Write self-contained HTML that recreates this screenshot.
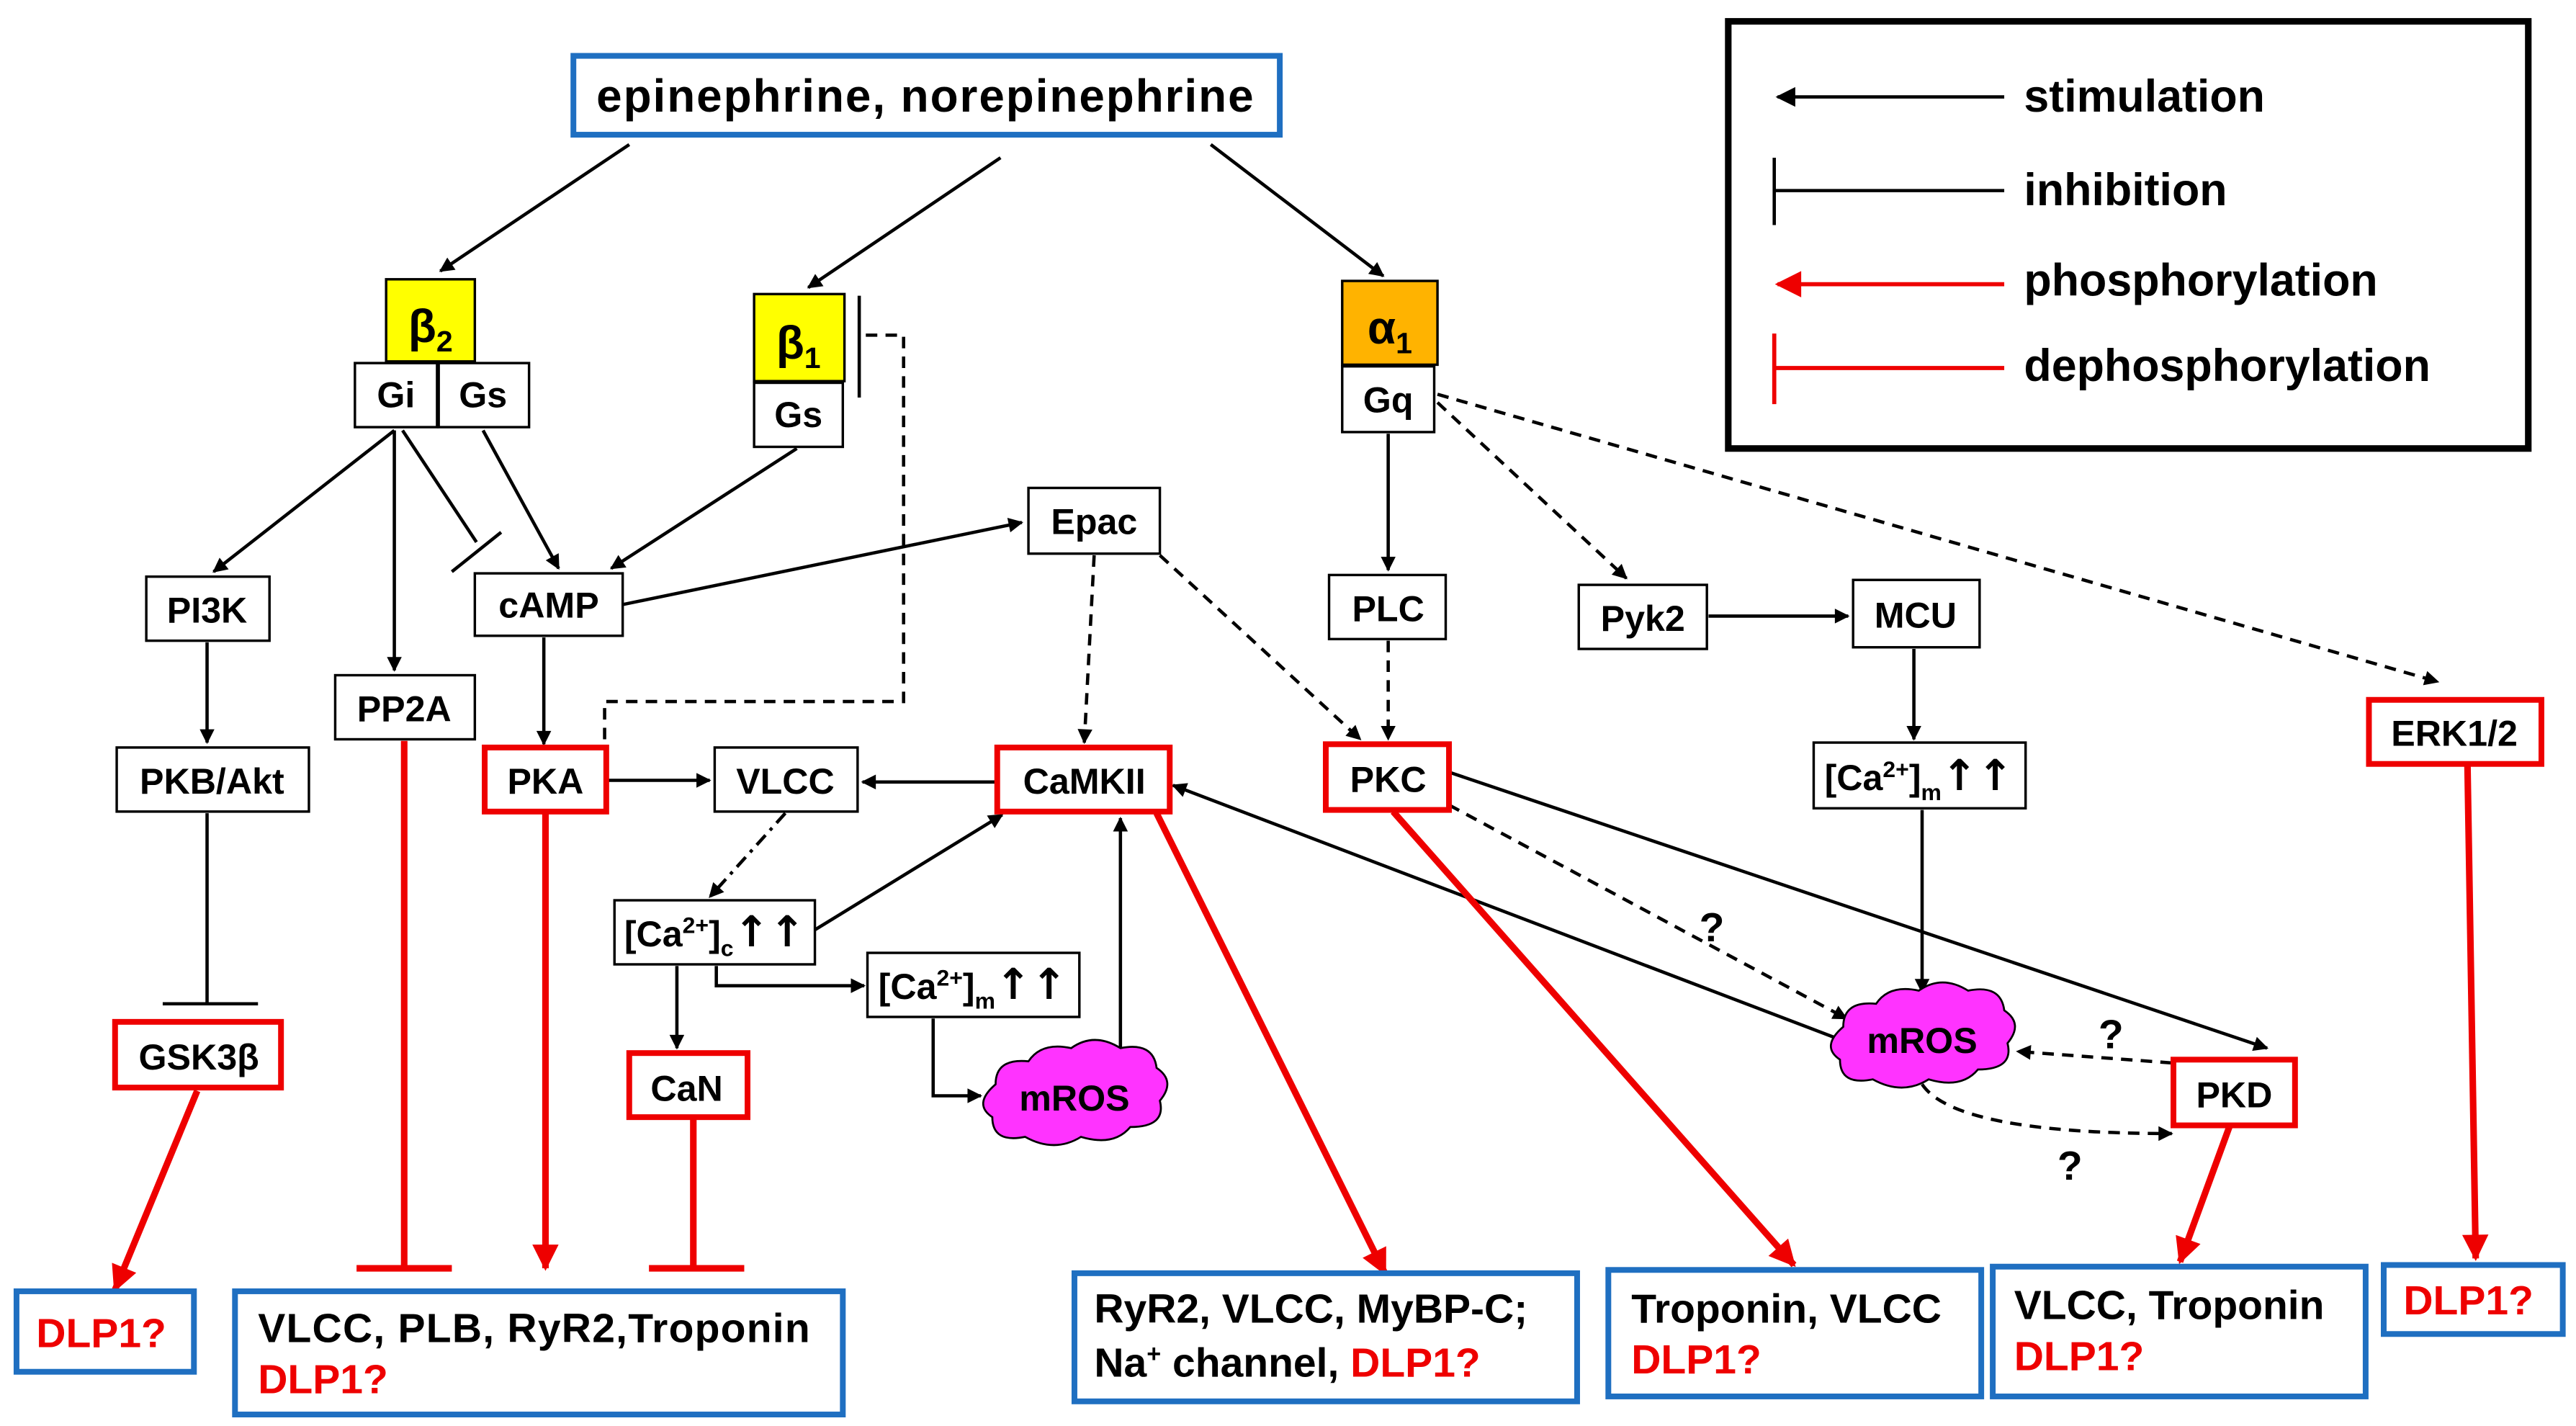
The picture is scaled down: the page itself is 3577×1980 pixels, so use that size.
<!DOCTYPE html>
<html><head><meta charset="utf-8"><style>
html,body{margin:0;padding:0;background:#fff;}
svg{display:block;}
text{font-family:"Liberation Sans",Arial,sans-serif;font-weight:bold;}
</style></head><body>
<svg width="3577" height="1980" viewBox="0 0 1568 868" xmlns="http://www.w3.org/2000/svg">
<defs>
<marker id="a" viewBox="0 0 10 10" refX="9" refY="5" markerWidth="10" markerHeight="9" orient="auto" markerUnits="userSpaceOnUse"><path d="M0,0 L10,5 L0,10 z" fill="#000"/></marker>
<marker id="ab" viewBox="0 0 10 10" refX="9" refY="5" markerWidth="15" markerHeight="12" orient="auto" markerUnits="userSpaceOnUse"><path d="M0,0 L10,5 L0,10 z" fill="#000"/></marker>
<marker id="r" viewBox="0 0 10 10" refX="9" refY="5" markerWidth="18" markerHeight="16" orient="auto" markerUnits="userSpaceOnUse"><path d="M0,0 L10,5 L0,10 z" fill="#e00"/></marker>
</defs>
<rect width="1568" height="868" fill="#fff"/>

<!-- legend -->
<rect x="1052" y="13" width="487" height="260" fill="#fff" stroke="#000" stroke-width="4"/>
<line x1="1220" y1="59" x2="1082" y2="59" stroke="#000" stroke-width="2" marker-end="url(#ab)"/>
<text x="1232" y="68" font-size="27.5">stimulation</text>
<line x1="1080" y1="116" x2="1220" y2="116" stroke="#000" stroke-width="2"/>
<line x1="1080" y1="96" x2="1080" y2="137" stroke="#000" stroke-width="2"/>
<text x="1232" y="125" font-size="27.5">inhibition</text>
<line x1="1220" y1="173" x2="1082" y2="173" stroke="#e00" stroke-width="2.5" marker-end="url(#r)"/>
<text x="1232" y="180" font-size="27.5">phosphorylation</text>
<line x1="1080" y1="224" x2="1220" y2="224" stroke="#e00" stroke-width="2.5"/>
<line x1="1080" y1="203" x2="1080" y2="246" stroke="#e00" stroke-width="2.5"/>
<text x="1232" y="232" font-size="27.5">dephosphorylation</text>

<!-- top -->
<rect x="349" y="34" width="430" height="48" fill="#fff" stroke="#1f6fc1" stroke-width="3.5"/>
<text x="563" y="68" font-size="28" text-anchor="middle" textLength="400">epinephrine, norepinephrine</text>

<g stroke="#000" stroke-width="2" fill="none">
<line x1="383" y1="88" x2="268" y2="165" marker-end="url(#a)"/>
<line x1="609" y1="96" x2="492" y2="175" marker-end="url(#a)"/>
<line x1="737" y1="88" x2="842" y2="168" marker-end="url(#a)"/>
<line x1="240" y1="262" x2="130" y2="348" marker-end="url(#a)"/>
<line x1="240" y1="262" x2="240" y2="408" marker-end="url(#a)"/>
<line x1="245" y1="262" x2="290" y2="330"/>
<line x1="275" y1="348" x2="305" y2="324"/>
<line x1="294" y1="262" x2="340" y2="346" marker-end="url(#a)"/>
<line x1="485" y1="273" x2="372" y2="346" marker-end="url(#a)"/>
<line x1="379" y1="368" x2="622" y2="318" marker-end="url(#a)"/>
<line x1="331" y1="388" x2="331" y2="453" marker-end="url(#a)"/>
<line x1="126" y1="391" x2="126" y2="452" marker-end="url(#a)"/>
<line x1="126" y1="495" x2="126" y2="611"/>
<line x1="99" y1="611" x2="157" y2="611" stroke-width="2"/>
<line x1="523" y1="180" x2="523" y2="242" stroke-width="2"/>
<line x1="845" y1="264" x2="845" y2="347" marker-end="url(#a)"/>
<line x1="1040" y1="375" x2="1125" y2="375" marker-end="url(#a)"/>
<line x1="1165" y1="395" x2="1165" y2="450" marker-end="url(#a)"/>
<line x1="1170" y1="493" x2="1170" y2="604" marker-end="url(#a)"/>
<line x1="369" y1="475" x2="432" y2="475" marker-end="url(#a)"/>
<line x1="606" y1="476" x2="525" y2="476" marker-end="url(#a)"/>
<line x1="496" y1="566" x2="610" y2="496" marker-end="url(#a)"/>
<polyline points="436,588 436,600 526,600" marker-end="url(#a)"/>
<line x1="412" y1="588" x2="412" y2="638" marker-end="url(#a)"/>
<polyline points="568,620 568,667 597,667" marker-end="url(#a)"/>
<line x1="682" y1="640" x2="682" y2="498" marker-end="url(#a)"/>
<line x1="1118" y1="632" x2="714" y2="478" marker-end="url(#a)"/>
<line x1="882" y1="470" x2="1380" y2="638" marker-end="url(#a)"/>
</g>
<g stroke="#000" stroke-width="2" fill="none" stroke-dasharray="7,5">
<polyline points="527,204 550,204 550,427 368,427 368,455"/>
<line x1="845" y1="390" x2="845" y2="450" marker-end="url(#a)"/>
<line x1="875" y1="245" x2="990" y2="352" marker-end="url(#a)"/>
<line x1="875" y1="240" x2="1484" y2="415" marker-end="url(#a)"/>
<line x1="666" y1="338" x2="660" y2="452" marker-end="url(#a)"/>
<line x1="706" y1="338" x2="828" y2="450" marker-end="url(#a)"/>
<line x1="882" y1="490" x2="1124" y2="620" marker-end="url(#a)"/>
<line x1="1322" y1="647" x2="1228" y2="640" marker-end="url(#a)"/>
<path d="M1170,660 Q1190,690 1322,690" marker-end="url(#a)"/>
</g>
<line x1="478" y1="495" x2="432" y2="546" stroke="#000" stroke-width="2" stroke-dasharray="8,4,2,4" marker-end="url(#a)"/>
<text x="1042" y="573" font-size="25" text-anchor="middle">?</text>
<text x="1285" y="638" font-size="25" text-anchor="middle">?</text>
<text x="1260" y="718" font-size="25" text-anchor="middle">?</text>

<!-- red -->
<g stroke="#e00" stroke-width="4" fill="none">
<line x1="120" y1="664" x2="70" y2="785" marker-end="url(#r)"/>
<line x1="246" y1="451" x2="246" y2="772"/>
<line x1="217" y1="772" x2="275" y2="772"/>
<line x1="332" y1="495" x2="332" y2="772" marker-end="url(#r)"/>
<line x1="422" y1="681" x2="422" y2="772"/>
<line x1="395" y1="772" x2="453" y2="772"/>
<line x1="704" y1="495" x2="843" y2="775" marker-end="url(#r)"/>
<line x1="848" y1="494" x2="1092" y2="770" marker-end="url(#r)"/>
<line x1="1357" y1="686" x2="1327" y2="768" marker-end="url(#r)"/>
<line x1="1502" y1="466" x2="1507" y2="766" marker-end="url(#r)"/>
</g>

<!-- receptors -->
<rect x="235" y="170" width="54" height="50" fill="#ff0" stroke="#000" stroke-width="1.5"/>
<text x="262" y="208" font-size="28" text-anchor="middle" font-family="Liberation Serif">β<tspan font-size="18" dy="6">2</tspan></text>
<rect x="459" y="179" width="55" height="53" fill="#ff0" stroke="#000" stroke-width="1.5"/>
<text x="486" y="218" font-size="28" text-anchor="middle" font-family="Liberation Serif">β<tspan font-size="18" dy="6">1</tspan></text>
<rect x="817" y="171" width="58" height="51" fill="#ffb300" stroke="#000" stroke-width="1.5"/>
<text x="846" y="209" font-size="28" text-anchor="middle" font-family="Liberation Serif">α<tspan font-size="18" dy="6">1</tspan></text>

<g fill="#fff" stroke="#000" stroke-width="1.5">
<rect x="216" y="221" width="50" height="39"/>
<rect x="267" y="221" width="55" height="39"/>
<rect x="459" y="233" width="54" height="39"/>
<rect x="817" y="223" width="56" height="40"/>
<rect x="89" y="351" width="75" height="39"/>
<rect x="204" y="411" width="85" height="39"/>
<rect x="289" y="349" width="90" height="38"/>
<rect x="626" y="297" width="80" height="40"/>
<rect x="809" y="350" width="71" height="39"/>
<rect x="961" y="356" width="78" height="39"/>
<rect x="1128" y="353" width="77" height="41"/>
<rect x="71" y="455" width="117" height="39"/>
<rect x="435" y="455" width="87" height="39"/>
<rect x="1104" y="452" width="129" height="40"/>
<rect x="374" y="548" width="122" height="39"/>
<rect x="528" y="580" width="129" height="39"/>
</g>
<g fill="#fff" stroke="#e00" stroke-width="3.5">
<rect x="295" y="455" width="74" height="39"/>
<rect x="607" y="455" width="105" height="39"/>
<rect x="807" y="453" width="75" height="40"/>
<rect x="1442" y="426" width="105" height="39"/>
<rect x="383" y="641" width="72" height="39"/>
<rect x="70" y="622" width="101" height="40"/>
<rect x="1323" y="645" width="74" height="40"/>
</g>

<!-- clouds -->
<g fill="#ff33ff" stroke="#000" stroke-width="1.2">
<path d="M606,660 q0,-16 20,-14 q8,-12 26,-8 q14,-10 30,0 q20,-4 22,12 q12,8 2,20 q4,16 -18,16 q-10,12 -30,6 q-16,10 -34,0 q-20,4 -20,-12 q-12,-8 2,-20z"/>
<path d="M1122,625 q0,-16 20,-14 q8,-12 26,-8 q14,-10 30,0 q20,-4 22,12 q12,8 2,20 q4,16 -18,16 q-10,12 -30,6 q-16,10 -34,0 q-20,4 -20,-12 q-12,-8 2,-20z"/>
</g>

<g font-size="22" text-anchor="middle">
<text x="241" y="248">Gi</text>
<text x="294" y="248">Gs</text>
<text x="486" y="260">Gs</text>
<text x="845" y="251">Gq</text>
<text x="126" y="379">PI3K</text>
<text x="246" y="439">PP2A</text>
<text x="334" y="376">cAMP</text>
<text x="666" y="325">Epac</text>
<text x="845" y="378">PLC</text>
<text x="1000" y="384">Pyk2</text>
<text x="1166" y="382">MCU</text>
<text x="129" y="483">PKB/Akt</text>
<text x="332" y="483">PKA</text>
<text x="478" y="483">VLCC</text>
<text x="660" y="483">CaMKII</text>
<text x="845" y="482">PKC</text>
<text x="1494" y="454">ERK1/2</text>
<text x="418" y="670">CaN</text>
<text x="121" y="651">GSK3β</text>
<text x="1360" y="674">PKD</text>
<text x="1168" y="481">[Ca<tspan font-size="14" dy="-8">2+</tspan><tspan dy="8">]</tspan><tspan font-size="14" dy="6">m</tspan><tspan dy="-6" font-size="26" font-family="DejaVu Sans">↑↑</tspan></text>
<text x="435" y="576">[Ca<tspan font-size="14" dy="-8">2+</tspan><tspan dy="8">]</tspan><tspan font-size="14" dy="6">c</tspan><tspan dy="-6" font-size="26" font-family="DejaVu Sans">↑↑</tspan></text>
<text x="592" y="608">[Ca<tspan font-size="14" dy="-8">2+</tspan><tspan dy="8">]</tspan><tspan font-size="14" dy="6">m</tspan><tspan dy="-6" font-size="26" font-family="DejaVu Sans">↑↑</tspan></text>
<text x="654" y="676">mROS</text>
<text x="1170" y="641">mROS</text>
</g>

<!-- bottom -->
<g fill="#fff" stroke="#1f6fc1" stroke-width="3.5">
<rect x="10" y="786" width="108" height="49"/>
<rect x="143" y="786" width="370" height="75"/>
<rect x="654" y="775" width="306" height="78"/>
<rect x="979" y="773" width="227" height="77"/>
<rect x="1213" y="771" width="227" height="79"/>
<rect x="1451" y="770" width="109" height="42"/>
</g>
<g font-size="25">
<text x="22" y="820" fill="#e00">DLP1?</text>
<text x="157" y="817" textLength="336">VLCC,  PLB, RyR2,Troponin</text>
<text x="157" y="848" fill="#e00">DLP1?</text>
<text x="666" y="805">RyR2, VLCC, MyBP-C;</text>
<text x="666" y="838">Na<tspan font-size="15" dy="-9">+</tspan><tspan dy="9"> channel, </tspan><tspan fill="#e00">DLP1?</tspan></text>
<text x="993" y="805">Troponin, VLCC</text>
<text x="993" y="836" fill="#e00">DLP1?</text>
<text x="1226" y="803">VLCC,  Troponin</text>
<text x="1226" y="834" fill="#e00">DLP1?</text>
<text x="1463" y="800" fill="#e00">DLP1?</text>
</g>
</svg>
</body></html>
